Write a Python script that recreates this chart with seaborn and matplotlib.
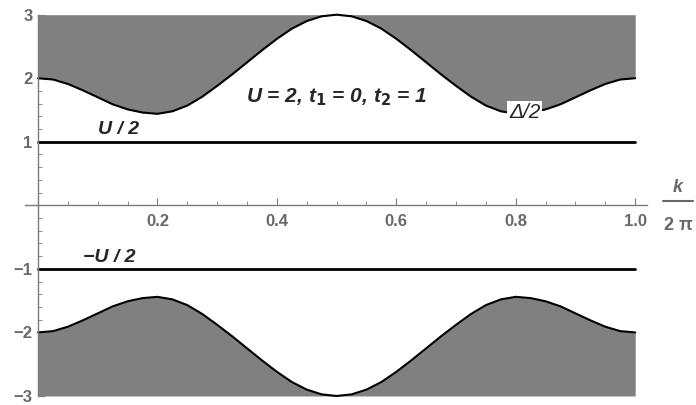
import matplotlib
matplotlib.use("Agg")
import matplotlib.pyplot as plt
import seaborn as sns

# === Values (x = k / 2pi) ===
k_frac = [0.0, 0.025, 0.05, 0.075, 0.1, 0.125, 0.15, 0.175, 0.2, 0.225,
          0.25, 0.275, 0.3, 0.325, 0.35, 0.375, 0.4, 0.425, 0.45, 0.475,
          0.5, 0.525, 0.55, 0.575, 0.6, 0.625, 0.65, 0.675, 0.7, 0.725,
          0.75, 0.775, 0.8, 0.825, 0.85, 0.875, 0.9, 0.925, 0.95, 0.975, 1.0]
gap_upper = [2.00, 1.98, 1.91, 1.81, 1.70, 1.59, 1.51, 1.46, 1.44, 1.48,
             1.57, 1.71, 1.88, 2.06, 2.25, 2.44, 2.62, 2.78, 2.90, 2.975,
             3.00, 2.975, 2.90, 2.78, 2.62, 2.44, 2.25, 2.06, 1.88, 1.71,
             1.57, 1.48, 1.44, 1.46, 1.51, 1.59, 1.70, 1.81, 1.91, 1.98, 2.00]
gap_lower = [-2.00, -1.98, -1.91, -1.81, -1.70, -1.59, -1.51, -1.46, -1.44, -1.48,
             -1.57, -1.71, -1.88, -2.06, -2.25, -2.44, -2.62, -2.78, -2.90, -2.975,
             -3.00, -2.975, -2.90, -2.78, -2.62, -2.44, -2.25, -2.06, -1.88, -1.71,
             -1.57, -1.48, -1.44, -1.46, -1.51, -1.59, -1.70, -1.81, -1.91, -1.98, -2.00]
line_x = [0.0, 1.0]
u_half = [1.0, 1.0]
neg_u_half = [-1.0, -1.0]
x_ticks = [0.2, 0.4, 0.6, 0.8, 1.0]
y_ticks = [-3, -2, -1, 1, 2, 3]

sns.set_style("white")
plt.rcParams["font.family"] = ["Liberation Sans", "DejaVu Sans"]

fig = plt.figure(figsize=(6.96, 4.05), dpi=100)
ax = fig.add_axes([0.0358, 0.016, 0.894, 0.954])

fill_col = "#808080"
axis_col = "#7a7a7a"
label_col = "#686868"

ax.fill_between(k_frac, gap_upper, 3, color=fill_col, lw=0)
ax.fill_between(k_frac, gap_lower, -3, color=fill_col, lw=0)
sns.lineplot(x=k_frac, y=gap_upper, ax=ax, color="black", lw=1.5)
sns.lineplot(x=k_frac, y=gap_lower, ax=ax, color="black", lw=1.5)
sns.lineplot(x=line_x, y=u_half, ax=ax, color="black", lw=2)
sns.lineplot(x=line_x, y=neg_u_half, ax=ax, color="black", lw=2)

ax.set_xlim(-0.022, 1.02)
ax.set_ylim(-3.04, 3.04)

# Mathematica-style axes through the origin
for s in ["top", "right"]:
    ax.spines[s].set_visible(False)
ax.spines["left"].set_position(("data", 0))
ax.spines["bottom"].set_position(("data", 0))
ax.spines["left"].set_bounds(-3, 3)
for s in ["left", "bottom"]:
    ax.spines[s].set_color(axis_col)
    ax.spines[s].set_linewidth(1.0)

ax.set_xticks(x_ticks)
ax.set_xticklabels([f"{v:.1f}" for v in x_ticks])
ax.set_yticks(y_ticks)
ax.set_yticklabels([f"\u2212{abs(v)}" if v < 0 else str(v) for v in y_ticks])
ax.set_xticks([i * 0.05 for i in range(21)], minor=True)
ax.set_yticks([-3 + i * 0.2 for i in range(31)], minor=True)
ax.tick_params(axis="both", which="both", bottom=True, left=True)
ax.tick_params(axis="both", which="major", direction="in", length=5, width=0.8,
               color=axis_col, labelcolor=label_col, labelsize=12)
ax.tick_params(axis="both", which="minor", direction="in", length=3, width=0.6,
               color=axis_col)
ax.tick_params(axis="x", pad=6)
ax.tick_params(axis="y", pad=4)
for lab in ax.get_xticklabels() + ax.get_yticklabels():
    lab.set_fontweight("bold")

# === Annotations ===
ax.text(0.134, 1.06, "U / 2", fontsize=14, fontweight="bold", style="italic",
        ha="center", va="bottom")
ax.text(0.12, -0.96, "\u2212U / 2", fontsize=14, fontweight="bold", style="italic",
        ha="center", va="bottom")
ax.text(0.5, 1.7, "U = 2, t$_{\\mathbf{1}}$ = 0, t$_{\\mathbf{2}}$ = 1", fontsize=15,
        fontweight="bold", style="italic", ha="center", va="center")
ax.text(0.815, 1.46, "\u0394/2", fontsize=15, style="italic", ha="center",
        va="center", bbox=dict(facecolor="white", edgecolor="none", pad=1.5))

# axis label k / 2pi
fig.text(0.974, 0.538, "k", fontsize=13, fontweight="bold", style="italic",
         color=label_col, ha="center", va="center")
fig.add_artist(plt.Line2D([0.952, 0.996], [0.503, 0.503], color=label_col, lw=1.5))
fig.text(0.974, 0.443, "2 \u03c0", fontsize=13, fontweight="bold",
         color=label_col, ha="center", va="center")

fig.savefig("out.png", dpi=100)
